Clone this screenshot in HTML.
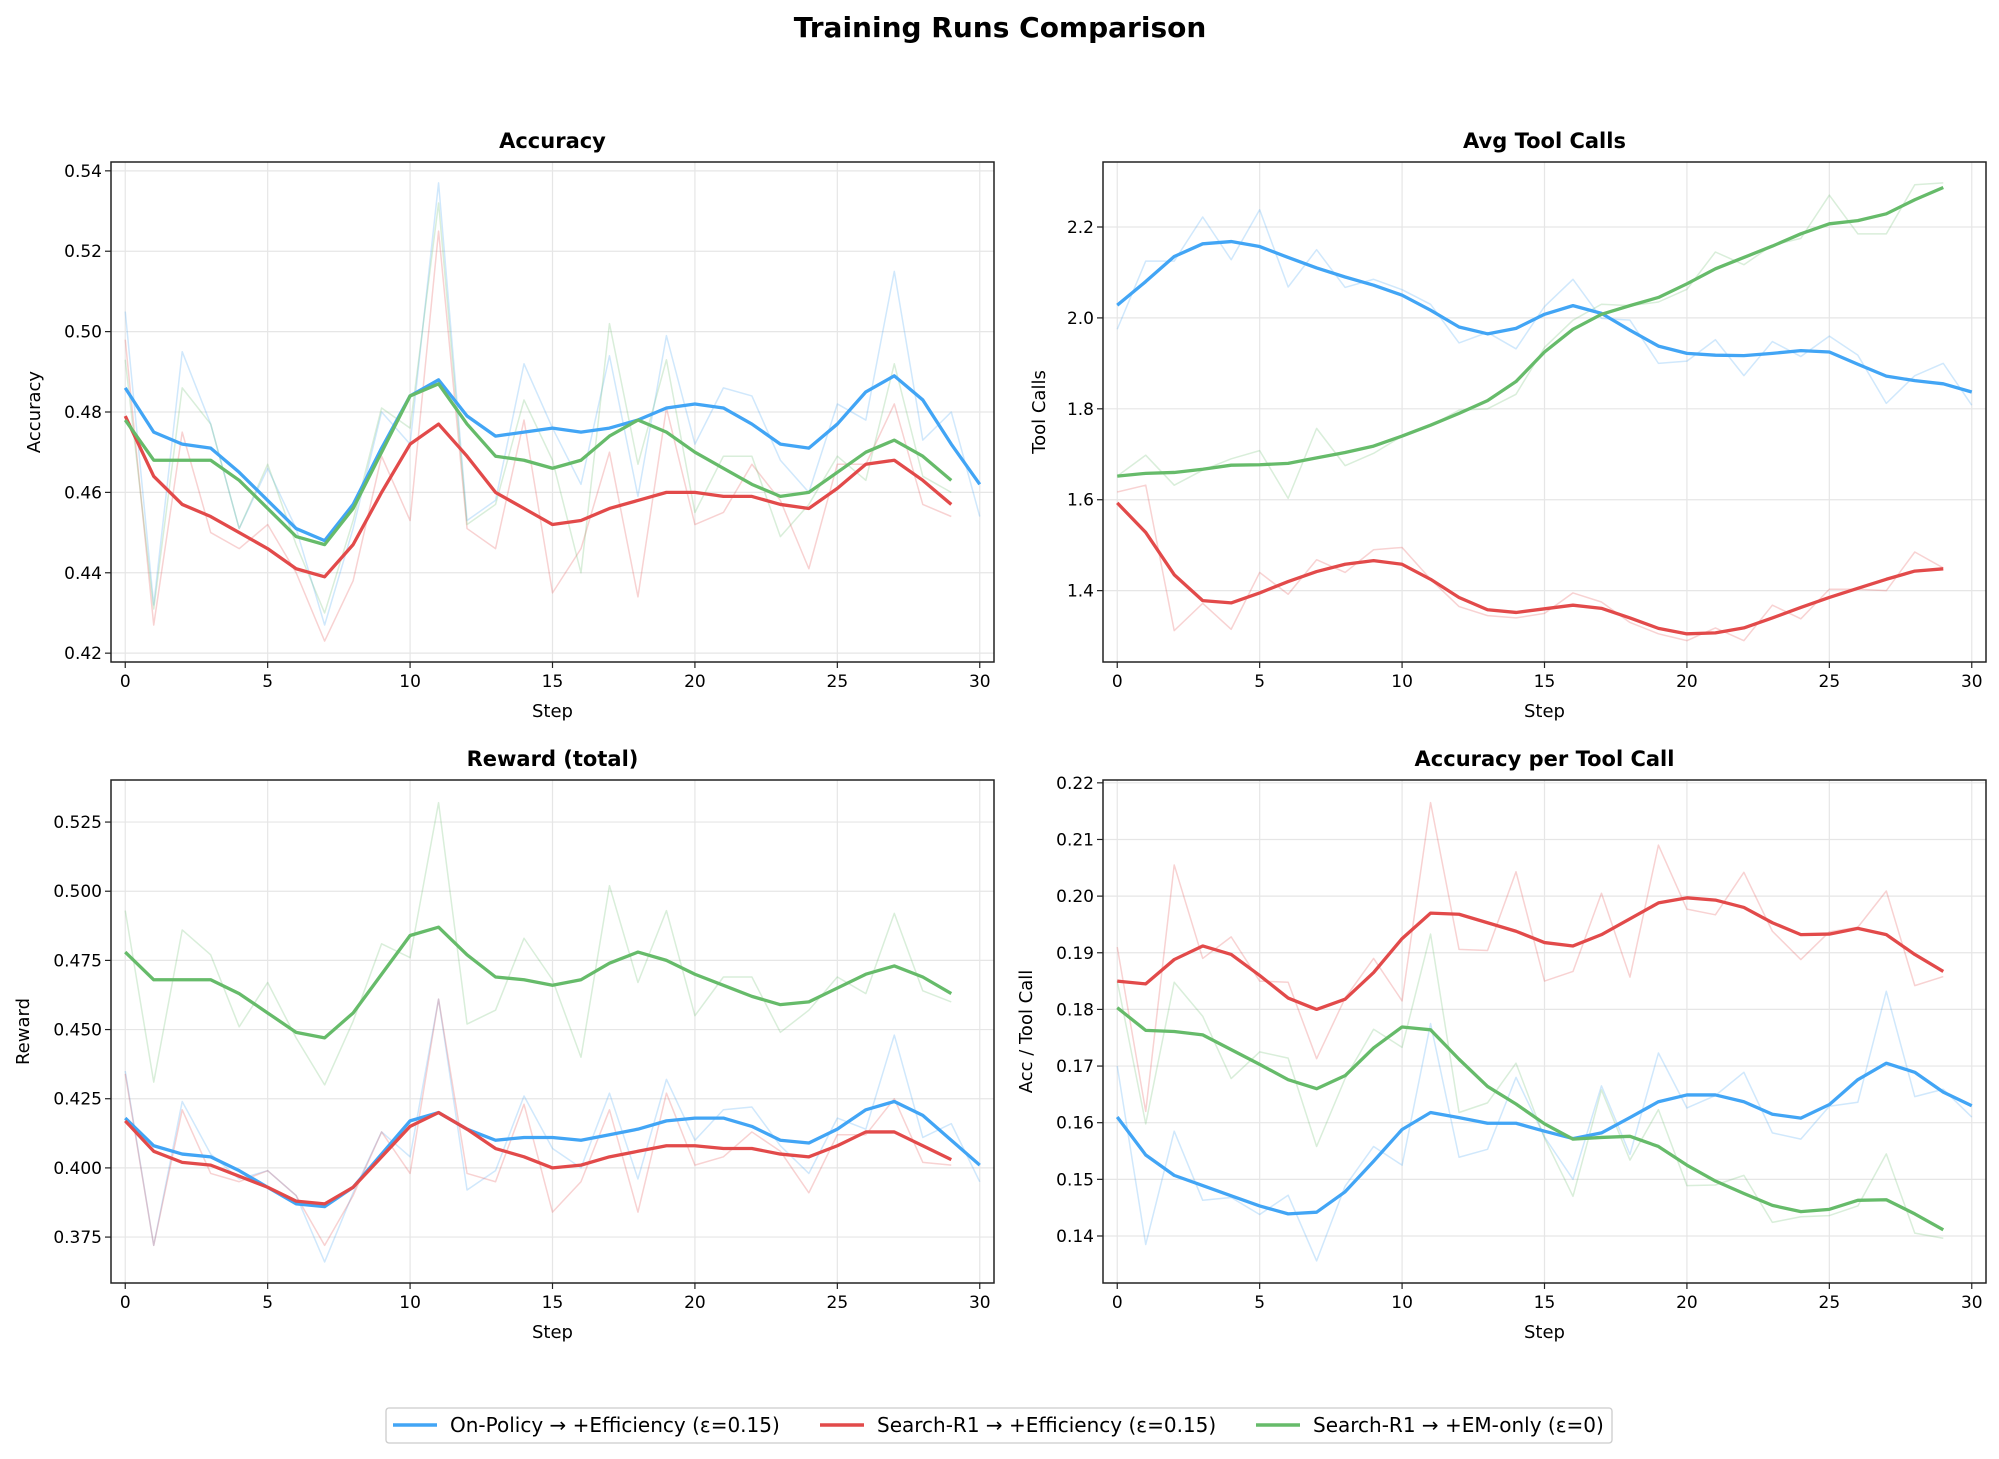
<!DOCTYPE html>
<html><head><meta charset="utf-8"><style>
html,body{margin:0;padding:0;background:#fff;}
svg{display:block;font-family:"DejaVu Sans","Liberation Sans",sans-serif;}
</style></head><body>
<svg id="fig" width="1999" height="1459" viewBox="0 0 1999 1459" xmlns="http://www.w3.org/2000/svg">
<text x="1000" y="37" text-anchor="middle" font-size="28" font-weight="bold">Training Runs Comparison</text>
<g id="legend">
<rect x="386" y="1408" width="1226" height="35" rx="3" fill="#fff" stroke="#ccc" stroke-width="1.3"/>
<g><line x1="393" y1="1425" x2="437" y2="1425" stroke="#42A5F5" stroke-width="3.5"/><text x="450" y="1432" font-size="20">On-Policy → +Efficiency (ε=0.15)</text></g>
<g><line x1="820" y1="1425" x2="864" y2="1425" stroke="#E24A4A" stroke-width="3.5"/><text x="877" y="1432" font-size="20">Search-R1 → +Efficiency (ε=0.15)</text></g>
<g><line x1="1256" y1="1425" x2="1300" y2="1425" stroke="#66BB6A" stroke-width="3.5"/><text x="1313" y="1432" font-size="20">Search-R1 → +EM-only (ε=0)</text></g>
</g>
</svg>
<script>
// ---- data ----
const accBlueRaw=[.505,.432,.495,.477,.451,.466,.451,.427,.451,.480,.472,.537,.453,.458,.492,.476,.462,.494,.459,.499,.472,.486,.484,.468,.460,.482,.478,.515,.473,.480,.454];
const accRedRaw=[.498,.427,.475,.450,.446,.452,.440,.423,.438,.469,.453,.525,.451,.446,.478,.435,.446,.470,.434,.481,.452,.455,.467,.458,.441,.467,.467,.482,.457,.454];
const accGreenRaw=[.493,.431,.486,.477,.451,.467,.447,.430,.453,.481,.476,.532,.452,.457,.483,.468,.440,.502,.467,.493,.455,.469,.469,.449,.457,.469,.463,.492,.464,.460];
const accBlue=[.486,.475,.472,.471,.465,.458,.451,.448,.457,.471,.484,.488,.479,.474,.475,.476,.475,.476,.478,.481,.482,.481,.477,.472,.471,.477,.485,.489,.483,.472,.462];
const accRed=[.479,.464,.457,.454,.450,.446,.441,.439,.447,.460,.472,.477,.469,.460,.456,.452,.453,.456,.458,.460,.460,.459,.459,.457,.456,.461,.467,.468,.463,.457];
const accGreen=[.478,.468,.468,.468,.463,.456,.449,.447,.456,.470,.484,.487,.477,.469,.468,.466,.468,.474,.478,.475,.470,.466,.462,.459,.460,.465,.470,.473,.469,.463];

const tcBlueRaw=[1.975,2.125,2.125,2.222,2.128,2.238,2.068,2.150,2.067,2.085,2.062,2.030,1.945,1.968,1.932,2.025,2.085,1.999,1.995,1.900,1.905,1.952,1.873,1.948,1.915,1.960,1.918,1.812,1.873,1.900,1.808];
const tcRedRaw=[1.617,1.632,1.312,1.372,1.315,1.440,1.392,1.468,1.440,1.490,1.495,1.425,1.365,1.345,1.340,1.350,1.395,1.375,1.330,1.305,1.290,1.318,1.290,1.368,1.338,1.403,1.403,1.400,1.485,1.450];
const tcGreenRaw=[1.652,1.698,1.632,1.665,1.690,1.708,1.603,1.757,1.675,1.702,1.740,1.763,1.797,1.800,1.832,1.935,1.995,2.030,2.027,2.035,2.063,2.145,2.117,2.160,2.175,2.270,2.185,2.185,2.293,2.297];
const tcBlue=[2.028,2.08,2.135,2.163,2.168,2.157,2.133,2.11,2.09,2.072,2.05,2.017,1.98,1.965,1.977,2.008,2.027,2.01,1.973,1.938,1.922,1.918,1.917,1.922,1.928,1.925,1.898,1.872,1.862,1.855,1.837];
const tcRed=[1.593,1.528,1.435,1.378,1.373,1.395,1.42,1.442,1.458,1.466,1.458,1.425,1.385,1.358,1.352,1.36,1.368,1.361,1.34,1.317,1.305,1.307,1.318,1.34,1.363,1.385,1.405,1.425,1.443,1.448];
const tcGreen=[1.652,1.658,1.660,1.667,1.676,1.677,1.68,1.692,1.704,1.718,1.74,1.764,1.79,1.818,1.86,1.925,1.975,2.008,2.027,2.045,2.075,2.108,2.133,2.158,2.185,2.207,2.214,2.229,2.26,2.287];

const rwBlueRaw=[.435,.372,.424,.405,.396,.399,.390,.366,.391,.413,.404,.461,.392,.399,.426,.407,.400,.427,.396,.432,.410,.421,.422,.408,.398,.418,.414,.448,.411,.416,.395];
const rwRedRaw=[.434,.372,.421,.398,.395,.399,.390,.372,.390,.413,.398,.461,.398,.395,.423,.384,.395,.421,.384,.427,.401,.404,.413,.406,.391,.412,.412,.425,.402,.401];
const rwGreenRaw=[.493,.431,.486,.477,.451,.467,.447,.430,.453,.481,.476,.532,.452,.457,.483,.468,.440,.502,.467,.493,.455,.469,.469,.449,.457,.469,.463,.492,.464,.460];
const rwBlue=[.418,.408,.405,.404,.399,.393,.387,.386,.393,.405,.417,.420,.414,.410,.411,.411,.410,.412,.414,.417,.418,.418,.415,.410,.409,.414,.421,.424,.419,.410,.401];
const rwRed=[.417,.406,.402,.401,.397,.393,.388,.387,.393,.404,.415,.420,.414,.407,.404,.400,.401,.404,.406,.408,.408,.407,.407,.405,.404,.408,.413,.413,.408,.403];
const rwGreen=[.478,.468,.468,.468,.463,.456,.449,.447,.456,.470,.484,.487,.477,.469,.468,.466,.468,.474,.478,.475,.470,.466,.462,.459,.460,.465,.470,.473,.469,.463];

const aptBlueRaw=[.17,.1385,.1585,.1463,.1468,.1438,.1472,.1356,.1488,.1558,.1525,.1775,.1539,.1553,.168,.1575,.15,.1665,.1544,.1723,.1626,.1648,.1689,.1582,.1571,.1629,.1636,.1832,.1646,.1659,.161];
const aptRedRaw=[.191,.162,.2055,.189,.1928,.185,.1848,.1713,.182,.189,.1815,.2165,.1906,.1904,.2043,.185,.1867,.2005,.1857,.209,.1977,.1967,.2042,.1938,.1888,.1937,.1945,.2009,.1842,.1858];
const aptGreenRaw=[.185,.1598,.1848,.1788,.1678,.1725,.1714,.1558,.1678,.1765,.1733,.1933,.1618,.1635,.1705,.1573,.147,.1658,.1534,.1623,.1489,.149,.1507,.1424,.1434,.1436,.1453,.1545,.1405,.1396];
const aptBlue=[.161,.1543,.1507,.1489,.1471,.1453,.1439,.1442,.1478,.1532,.1588,.1618,.1609,.1599,.1599,.1585,.1572,.1582,.1609,.1637,.1649,.1649,.1637,.1615,.1608,.1632,.1676,.1705,.1689,.1654,.163];
const aptRed=[.185,.1845,.1888,.1912,.1897,.186,.182,.180,.1818,.1865,.1925,.197,.1968,.1953,.1938,.1918,.1912,.1932,.196,.1988,.1997,.1993,.198,.1953,.1932,.1933,.1943,.1932,.1897,.1867];
const aptGreen=[.1803,.1763,.1761,.1755,.1729,.1703,.1676,.166,.1683,.1732,.1769,.1764,.1712,.1664,.1633,.1598,.1571,.1574,.1576,.1558,.1525,.1497,.1475,.1454,.1443,.1447,.1463,.1464,.1439,.1411];

const xTicks=[0,5,10,15,20,25,30];
const accTicks=[0.42,0.44,0.46,0.48,0.50,0.52,0.54];
const tcTicks=[1.4,1.6,1.8,2.0,2.2];
const rwTicks=[0.375,0.400,0.425,0.450,0.475,0.500,0.525];
const aptTicks=[0.14,0.15,0.16,0.17,0.18,0.19,0.20,0.21,0.22];

const NS='http://www.w3.org/2000/svg';
const svg=document.getElementById('fig');
const BLUE='#42A5F5',RED='#E24A4A',GREEN='#66BB6A';
function mk(tag,attrs,parent){const e=document.createElementNS(NS,tag);for(const k in attrs)e.setAttribute(k,attrs[k]);(parent||svg).appendChild(e);return e;}

function panel(o){
  const g=mk('g',{});
  
  
  const X=v=>o.x0+(v-(-0.5))/31*(o.x1-o.x0);
  const Y=v=>o.y1-(v-o.ymin)/(o.ymax-o.ymin)*(o.y1-o.y0);
  xTicks.forEach(t=>{mk('line',{x1:X(t),x2:X(t),y1:o.y0,y2:o.y1,stroke:'#e6e6e6','stroke-width':1.2},g);});
  o.yTicks.forEach(t=>{mk('line',{x1:o.x0,x2:o.x1,y1:Y(t),y2:Y(t),stroke:'#e6e6e6','stroke-width':1.2},g);});
  function line(arr,color,w,op,nm){
    const p=mk('polyline',{points:arr.map((v,i)=>X(i)+','+Y(v)).join(' '),fill:'none',stroke:color,'stroke-width':w,'stroke-opacity':op,'stroke-linejoin':'round'},g);
    
    
  }
  line(o.raw[0],BLUE,1.5,0.25,'on-policy-raw-line');
  line(o.raw[1],RED,1.5,0.25,'search-r1-efficiency-raw-line');
  line(o.raw[2],GREEN,1.5,0.25,'search-r1-em-only-raw-line');
  line(o.sm[0],BLUE,3.3,1,'on-policy-smoothed-line');
  line(o.sm[1],RED,3.3,1,'search-r1-efficiency-smoothed-line');
  line(o.sm[2],GREEN,3.3,1,'search-r1-em-only-smoothed-line');
  mk('rect',{x:o.x0,y:o.y0,width:o.x1-o.x0,height:o.y1-o.y0,fill:'none',stroke:'#222','stroke-width':1.5},g);
  xTicks.forEach(t=>{
    mk('line',{x1:X(t),x2:X(t),y1:o.y1,y2:o.y1+6,stroke:'#222','stroke-width':1.2},g);
    const tx=mk('text',{x:X(t),y:o.y1+25,'text-anchor':'middle','font-size':17},g);tx.textContent=t;
    
    
  });
  o.yTicks.forEach(t=>{
    mk('line',{x1:o.x0-6,x2:o.x0,y1:Y(t),y2:Y(t),stroke:'#222','stroke-width':1.2},g);
    const tx=mk('text',{x:o.x0-9,y:Y(t)+6,'text-anchor':'end','font-size':17},g);tx.textContent=t.toFixed(o.dec);
    
    
  });
  const ti=mk('text',{x:(o.x0+o.x1)/2,y:o.y0-14,'text-anchor':'middle','font-size':21,'font-weight':'bold'},g);ti.textContent=o.title;
  
  
  const xl=mk('text',{x:(o.x0+o.x1)/2,y:o.y1+55,'text-anchor':'middle','font-size':18},g);xl.textContent='Step';
  
  
  const yc=(o.y0+o.y1)/2;
  const yl=mk('text',{x:o.ylx,y:yc,'text-anchor':'middle','font-size':18,transform:'rotate(-90 '+o.ylx+' '+yc+')'},g);yl.textContent=o.ylabel;
  
  
}
panel({name:'accuracy-panel',title:'Accuracy',ylabel:'Accuracy',x0:111,x1:994,y0:162,y1:662,ymin:0.4178,ymax:0.5422,yTicks:accTicks,dec:2,ylx:40,
  raw:[accBlueRaw,accRedRaw,accGreenRaw],sm:[accBlue,accRed,accGreen]});
panel({name:'avg-tool-calls-panel',title:'Avg Tool Calls',ylabel:'Tool Calls',x0:1103,x1:1986,y0:162,y1:662,ymin:1.243,ymax:2.343,yTicks:tcTicks,dec:1,ylx:1045,
  raw:[tcBlueRaw,tcRedRaw,tcGreenRaw],sm:[tcBlue,tcRed,tcGreen]});
panel({name:'reward-panel',title:'Reward (total)',ylabel:'Reward',x0:111,x1:994,y0:780,y1:1283,ymin:0.3584,ymax:0.5402,yTicks:rwTicks,dec:3,ylx:29,
  raw:[rwBlueRaw,rwRedRaw,rwGreenRaw],sm:[rwBlue,rwRed,rwGreen]});
panel({name:'accuracy-per-tool-call-panel',title:'Accuracy per Tool Call',ylabel:'Acc / Tool Call',x0:1103,x1:1986,y0:780,y1:1283,ymin:0.1317,ymax:0.2205,yTicks:aptTicks,dec:2,ylx:1032,
  raw:[aptBlueRaw,aptRedRaw,aptGreenRaw],sm:[aptBlue,aptRed,aptGreen]});
svg.appendChild(document.getElementById('legend'));
</script>
</body></html>
